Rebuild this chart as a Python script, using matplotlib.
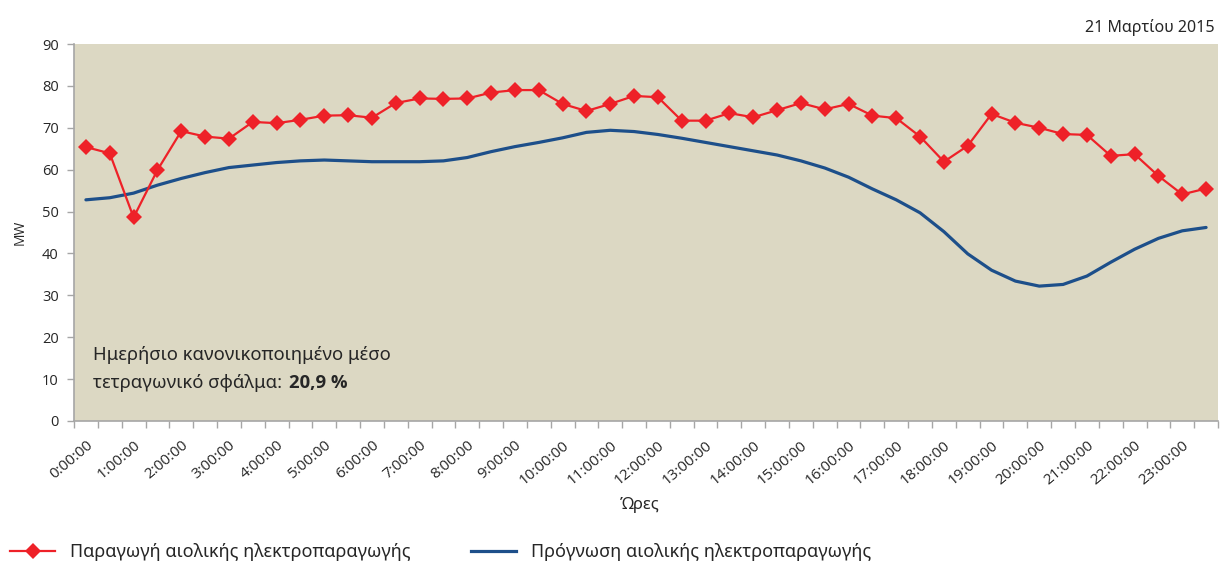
import matplotlib
matplotlib.use("Agg")
import matplotlib.pyplot as plt
from matplotlib.lines import Line2D

plt.rcParams['font.family'] = ['Open Sans', 'DejaVu Sans']

# Half-hourly categories (48), labels every hour
hour_labels = [f"{h}:00:00" for h in range(24)]

production = [65.4, 63.9, 48.6, 59.9, 69.2, 67.9, 67.4, 71.4, 71.1, 71.9,
              72.9, 73.0, 72.4, 75.9, 77.0, 76.9, 77.0, 78.4, 79.0, 79.0,
              75.7, 74.0, 75.7, 77.6, 77.3, 71.7, 71.7, 73.5, 72.5, 74.2,
              75.9, 74.4, 75.7, 72.9, 72.3, 67.9, 61.9, 65.7, 73.3, 71.2,
              70.0, 68.5, 68.3, 63.3, 63.7, 58.5, 54.1, 55.5]

forecast = [52.8, 53.3, 54.4, 56.3, 57.9, 59.3, 60.5, 61.1, 61.7, 62.1,
            62.3, 62.1, 61.9, 61.9, 61.9, 62.1, 62.9, 64.3, 65.5, 66.5,
            67.6, 68.9, 69.4, 69.1, 68.4, 67.5, 66.5, 65.5, 64.5, 63.5,
            62.1, 60.4, 58.2, 55.4, 52.8, 49.7, 45.2, 39.9, 36.0, 33.4,
            32.2, 32.6, 34.6, 37.9, 41.0, 43.6, 45.4, 46.2]

series_names = ["Παραγωγή αιολικής ηλεκτροπαραγωγής",
                "Πρόγνωση αιολικής ηλεκτροπαραγωγής"]

red = "#EE2128"
blue = "#1D4F8A"
grey = "#A6A6A6"
txt = "#262626"
gfont = ['Noto Sans', 'DejaVu Sans']

fig = plt.figure(figsize=(12.2, 5.63), dpi=100)
ax = fig.add_axes([74/1220, 1-421/563, (1218-74)/1220, (421-44)/563])
ax.set_facecolor("#DCD8C3")

x = list(range(len(production)))
ax.plot(x, forecast, color=blue, lw=2.3, solid_capstyle='round', zorder=3)
ax.plot(x, production, color=red, lw=1.6, marker='D', markersize=8.5,
        markeredgewidth=0, zorder=4)

ax.set_xlim(-0.5, len(production) - 0.5)
ax.set_ylim(0, 90)
ax.set_yticks(range(0, 91, 10))
ax.set_xticks(list(range(0, 48, 2)))
ax.set_xticklabels(hour_labels, rotation=40, ha='right', va='top',
                   rotation_mode='anchor', fontsize=11, color=txt)
ax.set_xticks([i - 0.5 for i in range(49)], minor=True)
ax.tick_params(axis='x', which='major', length=0, pad=12)
ax.tick_params(axis='x', which='minor', length=5, color=grey, width=1)
ax.tick_params(axis='y', length=5, color=grey, width=1, labelsize=10.5,
               labelcolor=txt, pad=6)

for s in ['top', 'right']:
    ax.spines[s].set_visible(False)
for s in ['left', 'bottom']:
    ax.spines[s].set_color(grey)
    ax.spines[s].set_linewidth(1.2)

ax.set_ylabel("MW", fontsize=10, color=txt, labelpad=10)
fig.text(640/1220, 1-505/563, "Ώρες", ha='center', va='center',
         fontsize=12, color=txt, family=gfont)

fig.text(1215/1220, 1-27/563, "21 Μαρτίου 2015", ha='right', va='center',
         fontsize=11.5, color=txt, family=gfont, fontweight='medium')

fig.text(93/1220, 1-355/563, "Ημερήσιο κανονικοποιημένο μέσο",
         fontsize=13.3, color=txt, va='center', family=gfont)
t2 = fig.text(93/1220, 1-383/563, "τετραγωνικό σφάλμα:", fontsize=13.3,
              color=txt, va='center', family=gfont)
ax.annotate("20,9 %", xy=(1, 0.5), xycoords=t2, xytext=(5, 0),
            textcoords='offset points', fontsize=13.3, color=txt,
            va='center', ha='left', fontweight='bold',
            family=['Open Sans', 'DejaVu Sans'], annotation_clip=False)

handles = [Line2D([], [], color=red, lw=1.6, marker='D', markersize=8.5,
                  markeredgewidth=0),
           Line2D([], [], color=blue, lw=2.3)]
leg = fig.legend(handles, series_names, loc='lower left', ncol=2,
                 bbox_to_anchor=(10/1220, 2/563), frameon=False,
                 borderpad=0, borderaxespad=0,
                 handlelength=2.5, handletextpad=0.85, columnspacing=3.3,
                 prop={'family': gfont, 'size': 13})
for t in leg.get_texts():
    t.set_color(txt)

fig.savefig("out.png", dpi=100)
